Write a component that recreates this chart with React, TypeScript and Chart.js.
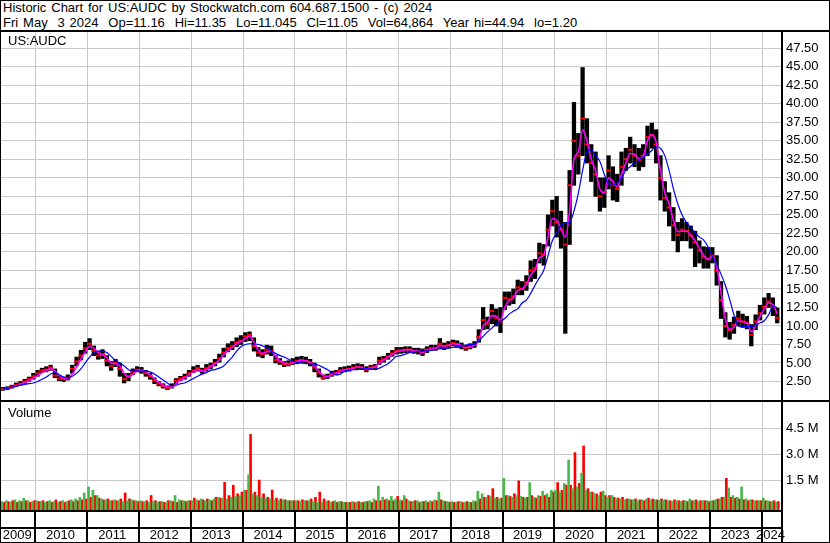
import React, { useEffect, useRef } from 'react';
import { Chart, registerables } from 'chart.js';

Chart.register(...registerables);

// ---------- axis / time configuration ----------
const START_YEAR = 2009;
const START_MONTH = 5; // first monthly bar: May 2009
const X_MIN = 2009.3353;
const X_MAX = 2024.3642;
const YEAR_TICKS = [2010, 2011, 2012, 2013, 2014, 2015, 2016, 2017, 2018, 2019, 2020, 2021, 2022, 2023, 2024];
const YEAR_LABELS = ['2009', '2010', '2011', '2012', '2013', '2014', '2015', '2016', '2017', '2018', '2019', '2020', '2021', '2022', '2023', '2024'];
const PRICE_MAX = 49.7;
const PRICE_TICKS = [2.5, 5, 7.5, 10, 12.5, 15, 17.5, 20, 22.5, 25, 27.5, 30, 32.5, 35, 37.5, 40, 42.5, 45, 47.5];
const VOL_MIN = -0.24;
const VOL_MAX = 6.03;
const VOL_TICKS = [1.5, 3.0, 4.5];

// ---------- monthly data (May 2009 .. Apr 2024) ----------
const highs = [
  1.7, 1.8, 2.0, 2.3, 2.5, 2.8, 3.1, 3.6,
  4.0, 4.3, 4.5, 4.7, 4.2, 3.3, 3.1, 3.4, 4.7, 5.8, 6.7, 7.8,
  8.3, 7.3, 6.6, 6.8, 6.0, 5.2, 5.5, 5.0, 3.6, 3.6, 4.2, 4.5,
  4.4, 4.0, 3.6, 3.0, 2.5, 2.2, 1.9, 2.2, 2.9, 3.2, 3.5, 4.0,
  4.5, 4.7, 4.3, 4.8, 5.0, 5.5, 6.2, 7.0, 7.6, 7.9, 8.4, 8.7,
  9.1, 9.2, 8.4, 7.1, 6.8, 7.4, 7.3, 6.0, 5.6, 5.2, 5.3, 5.6,
  5.8, 5.9, 5.8, 5.5, 5.0, 4.2, 3.4, 3.5, 3.9, 4.0, 4.4, 4.5,
  4.6, 4.8, 4.9, 4.8, 4.5, 4.7, 4.8, 5.8, 5.9, 6.3, 6.7, 7.1,
  7.1, 7.2, 7.2, 7.0, 7.0, 6.9, 7.2, 7.4, 7.4, 8.3, 7.7, 7.9,
  8.1, 8.0, 7.7, 7.4, 7.6, 7.9, 9.5, 12.5, 11.2, 12.9, 12.3, 12.5,
  14.6, 14.6, 15.0, 16.2, 16.0, 16.8, 18.8, 19.0, 21.2, 21.0, 25.0, 27.0,
  27.5, 25.5, 24.0, 31.0, 40.2, 36.0, 44.9, 38.0, 34.5, 33.5, 30.0, 30.0,
  33.0, 31.5, 30.5, 33.5, 34.0, 35.5, 34.5, 34.0, 34.5, 37.0, 37.4, 36.5,
  33.0, 29.5, 28.0, 26.0, 24.0, 24.5, 24.0, 23.5, 22.8, 21.5, 20.7, 20.6,
  20.6, 19.5, 16.0, 11.8, 10.5, 11.2, 12.0, 11.6, 11.3, 10.2, 11.5, 12.8,
  13.8, 14.4, 13.8, 12.4,
];

const lows = [
  1.3, 1.4, 1.6, 1.8, 2.0, 2.2, 2.5, 2.8,
  3.2, 3.7, 3.8, 4.0, 3.0, 2.6, 2.5, 2.7, 3.6, 4.6, 5.4, 6.3,
  6.8, 6.0, 5.5, 5.6, 4.6, 4.0, 4.5, 3.2, 2.3, 2.6, 3.4, 3.8,
  3.6, 3.2, 2.8, 2.2, 1.9, 1.6, 1.4, 1.6, 2.2, 2.6, 2.8, 3.2,
  3.7, 3.9, 3.6, 3.9, 4.2, 4.6, 5.1, 5.8, 6.5, 6.8, 7.2, 7.5,
  7.9, 8.0, 6.6, 5.9, 5.7, 6.2, 6.0, 5.0, 4.8, 4.5, 4.6, 4.8,
  4.9, 5.0, 4.9, 4.6, 3.8, 3.1, 2.8, 2.9, 3.2, 3.4, 3.7, 3.8,
  3.9, 4.1, 4.2, 4.1, 3.8, 4.1, 4.2, 4.8, 5.1, 5.5, 5.9, 6.2,
  6.3, 6.4, 6.4, 6.3, 6.2, 6.0, 6.4, 6.7, 6.7, 7.0, 6.8, 7.0,
  7.3, 7.1, 6.9, 6.7, 6.9, 7.1, 7.8, 9.5, 9.6, 10.3, 10.0, 9.1,
  12.2, 12.8, 13.0, 14.2, 14.2, 14.8, 16.0, 16.4, 18.5, 18.2, 20.8, 23.5,
  22.0, 20.5, 9.0, 21.0, 29.0, 30.5, 33.0, 32.0, 29.5, 27.5, 25.5, 26.0,
  28.5, 27.0, 26.8, 29.0, 31.0, 32.0, 31.5, 31.0, 31.5, 33.0, 34.0, 32.0,
  27.0, 25.5, 23.5, 21.5, 20.0, 21.5, 21.5, 20.5, 18.0, 18.5, 17.8, 17.8,
  18.5, 15.5, 11.0, 8.5, 8.2, 9.0, 10.0, 9.8, 9.6, 7.3, 9.5, 10.8,
  11.6, 12.5, 11.4, 10.4,
];

const closes = [
  1.5, 1.6, 1.8, 2.0, 2.2, 2.5, 2.8, 3.2,
  3.6, 4.0, 4.1, 4.4, 3.3, 2.9, 2.8, 3.0, 4.2, 5.2, 6.0, 7.0,
  7.6, 6.6, 6.0, 6.2, 5.3, 4.6, 5.0, 4.2, 2.8, 3.2, 3.8, 4.1,
  4.0, 3.6, 3.2, 2.6, 2.2, 1.9, 1.6, 1.8, 2.6, 2.9, 3.1, 3.6,
  4.0, 4.3, 3.9, 4.3, 4.6, 5.0, 5.6, 6.4, 7.0, 7.3, 7.8, 8.0,
  8.6, 8.8, 7.3, 6.4, 6.2, 6.8, 6.6, 5.4, 5.2, 4.8, 4.9, 5.1,
  5.3, 5.4, 5.3, 5.0, 4.4, 3.6, 3.0, 3.2, 3.5, 3.7, 4.0, 4.1,
  4.2, 4.4, 4.5, 4.4, 4.1, 4.4, 4.5, 5.3, 5.5, 5.9, 6.3, 6.6,
  6.7, 6.8, 6.8, 6.6, 6.6, 6.4, 6.8, 7.0, 7.0, 7.6, 7.2, 7.4,
  7.7, 7.5, 7.3, 7.0, 7.2, 7.5, 8.5, 10.8, 10.3, 12.0, 11.1, 10.6,
  13.8, 13.6, 14.0, 15.2, 15.0, 15.9, 17.5, 17.8, 19.8, 19.6, 23.0, 25.5,
  24.0, 23.0, 21.0, 29.0, 35.0, 33.0, 38.0, 34.5, 32.0, 30.5, 27.5, 28.0,
  31.0, 29.0, 28.5, 31.5, 32.5, 33.8, 33.0, 32.4, 33.0, 35.5, 35.8, 34.5,
  30.0, 27.3, 26.0, 23.6, 22.3, 23.0, 22.8, 22.2, 21.3, 20.2, 19.3, 19.0,
  19.5, 17.5, 13.5, 10.0, 9.4, 10.1, 11.0, 10.6, 10.4, 8.8, 10.6, 11.7,
  12.6, 13.3, 12.6, 11.1,
];

const maShort = [
  1.5, 1.55, 1.7, 1.9, 2.1, 2.35, 2.6, 2.95,
  3.3, 3.7, 4.0, 4.2, 3.9, 3.3, 2.95, 2.9, 3.5, 4.5, 5.5, 6.5,
  7.2, 7.0, 6.4, 6.1, 5.7, 5.0, 4.9, 4.6, 3.6, 3.1, 3.5, 3.9,
  4.0, 3.8, 3.4, 2.9, 2.4, 2.0, 1.75, 1.7, 2.2, 2.7, 3.0, 3.4,
  3.8, 4.1, 4.0, 4.1, 4.5, 4.9, 5.4, 6.1, 6.7, 7.1, 7.6, 7.9,
  8.3, 8.6, 7.8, 6.8, 6.3, 6.5, 6.6, 5.9, 5.3, 5.0, 4.9, 5.0,
  5.2, 5.35, 5.3, 5.1, 4.6, 3.9, 3.3, 3.15, 3.4, 3.6, 3.9, 4.05,
  4.15, 4.3, 4.45, 4.4, 4.2, 4.3, 4.45, 5.0, 5.4, 5.75, 6.15, 6.5,
  6.65, 6.75, 6.8, 6.65, 6.6, 6.45, 6.65, 6.9, 7.0, 7.35, 7.3, 7.35,
  7.6, 7.55, 7.35, 7.1, 7.15, 7.4, 8.1, 10.0, 10.5, 11.4, 11.3, 10.8,
  12.5, 13.4, 13.8, 14.8, 15.0, 15.6, 16.9, 17.6, 19.2, 19.6, 22.0, 24.5,
  24.3, 23.2, 22.0, 25.5, 32.5, 33.5, 36.5, 35.0, 32.5, 31.0, 28.5, 28.0,
  30.0, 29.5, 28.8, 30.5, 32.0, 33.3, 33.2, 32.6, 32.9, 35.0, 35.8, 34.8,
  31.0, 28.0, 26.5, 24.3, 22.7, 22.8, 22.8, 22.3, 21.5, 20.5, 19.5, 19.0,
  19.4, 18.0, 14.5, 11.0, 9.5, 9.9, 10.7, 10.6, 10.4, 9.2, 10.0, 11.3,
  12.3, 13.1, 12.9, 11.6,
];

const maLong = [
  1.5, 1.6, 1.7, 1.85, 2.0, 2.1, 2.2, 2.3,
  2.5, 2.8, 3.1, 3.5, 3.7, 3.4, 3.1, 3.0, 3.2, 3.6, 4.2, 5.0,
  5.8, 6.4, 6.6, 6.6, 6.4, 5.9, 5.3, 5.0, 4.6, 4.1, 3.9, 3.9,
  3.9, 3.9, 3.8, 3.5, 3.1, 2.7, 2.3, 1.9, 2.0, 2.2, 2.3, 2.6,
  2.9, 3.2, 3.5, 3.7, 4.0, 4.1, 4.3, 4.6, 5.2, 5.8, 6.6, 7.2,
  7.5, 7.6, 7.6, 7.5, 7.3, 7.1, 6.6, 6.3, 6.0, 5.8, 5.5, 5.2,
  5.1, 5.0, 4.9, 4.9, 4.8, 4.7, 4.4, 4.1, 3.7, 3.4, 3.5, 3.9,
  4.0, 4.1, 4.1, 4.2, 4.2, 4.2, 4.1, 4.3, 4.6, 4.9, 5.4, 5.9,
  6.0, 6.2, 6.4, 6.5, 6.6, 6.6, 6.6, 6.7, 6.8, 6.9, 7.0, 7.0,
  7.1, 7.2, 7.3, 7.4, 7.5, 7.5, 8.0, 8.6, 9.2, 9.7, 10.2, 10.6,
  11.0, 11.6, 12.0, 12.3, 13.1, 13.5, 14.4, 15.5, 16.5, 17.5, 19.5, 21.5,
  22.6, 23.6, 23.9, 24.0, 25.5, 27.9, 31.0, 33.5, 33.8, 33.0, 32.2, 30.5,
  29.2, 29.0, 29.3, 30.0, 31.0, 31.5, 32.0, 32.4, 32.8, 33.2, 33.7, 34.2,
  34.0, 33.0, 31.0, 28.5, 26.5, 25.0, 24.0, 23.3, 22.6, 22.0, 21.6, 20.7,
  19.4, 18.3, 17.0, 15.5, 13.6, 11.5, 10.0, 9.9, 9.9, 9.9, 10.1, 10.4,
  10.7, 11.5, 12.6, 12.5,
];

// weekly volume peaks within each month, millions of shares
const volUp = [
  0.25, 0.3, 0.2, 0.35, 0.3, 0.45, 0.3, 0.25,
  0.3, 0.25, 0.2, 0.3, 0.25, 0.2, 0.3, 0.25, 0.35, 0.4, 0.5, 0.75,
  1.1, 0.9, 0.6, 0.4, 0.35, 0.3, 0.35, 0.3, 0.25, 0.3, 0.35, 0.3,
  0.3, 0.25, 0.2, 0.25, 0.2, 0.25, 0.2, 0.3, 0.6, 0.35, 0.3, 0.3,
  0.3, 0.35, 0.4, 0.3, 0.35, 0.4, 0.5, 0.45, 0.4, 0.5, 0.55, 0.6,
  0.9, 1.8, 0.7, 0.6, 0.5, 0.45, 0.4, 0.35, 0.3, 0.35, 0.3, 0.3,
  0.3, 0.25, 0.3, 0.3, 0.25, 0.2, 0.2, 0.25, 0.2, 0.3, 0.25, 0.2,
  0.2, 0.25, 0.2, 0.2, 0.25, 0.3, 0.4, 1.15, 0.5, 0.4, 0.55, 0.4,
  0.35, 0.6, 0.3, 0.25, 0.3, 0.25, 0.3, 0.3, 0.35, 0.8, 0.3, 0.25,
  0.25, 0.2, 0.25, 0.2, 0.2, 0.3, 0.85, 0.7, 0.5, 0.55, 0.45, 0.4,
  1.6, 0.6, 0.5, 0.6, 0.55, 0.45, 1.35, 0.5, 0.6, 0.85, 0.7, 0.9,
  0.9, 0.8, 1.3, 2.66, 1.0, 1.1, 1.9, 0.9, 0.8, 0.7, 0.6, 0.86,
  0.5, 0.6, 0.45, 0.4, 0.35, 0.4, 0.35, 0.3, 0.35, 0.4, 0.35, 0.35,
  0.3, 0.35, 0.3, 0.25, 0.3, 0.25, 0.3, 0.4, 0.3, 0.25, 0.3, 0.3,
  0.3, 0.35, 0.4, 0.5, 1.04, 0.6, 0.5, 1.1, 0.4, 0.35, 0.3, 0.3,
  0.45, 0.3, 0.25, 0.2,
];

const volDown = [
  0.2, 0.25, 0.3, 0.2, 0.25, 0.3, 0.2, 0.3,
  0.25, 0.3, 0.25, 0.2, 0.35, 0.25, 0.2, 0.3, 0.25, 0.3, 0.35, 0.4,
  0.5, 0.6, 0.45, 0.35, 0.4, 0.3, 0.3, 0.4, 0.75, 0.4, 0.3, 0.25,
  0.25, 0.3, 0.6, 0.3, 0.25, 0.2, 0.3, 0.25, 0.2, 0.3, 0.25, 0.3,
  0.45, 0.3, 0.35, 0.4, 0.3, 0.5, 0.45, 1.37, 0.6, 1.2, 0.7, 0.8,
  0.9, 4.15, 0.8, 1.5, 0.7, 0.5, 0.92, 0.45, 0.4, 0.35, 0.3, 0.3,
  0.3, 0.35, 0.3, 0.4, 0.5, 0.8, 0.4, 0.3, 0.25, 0.2, 0.25, 0.2,
  0.2, 0.2, 0.25, 0.2, 0.25, 0.2, 0.3, 0.3, 0.35, 0.3, 0.3, 0.55,
  0.3, 0.4, 0.25, 0.3, 0.2, 0.25, 0.2, 0.25, 0.3, 0.35, 0.25, 0.2,
  0.2, 0.25, 0.2, 0.25, 0.2, 0.25, 0.4, 0.5, 0.6, 1.0, 0.5, 0.45,
  0.6, 0.55, 0.7, 1.45, 0.5, 0.5, 0.6, 0.45, 0.55, 0.6, 0.5, 0.8,
  1.35, 0.9, 1.2, 1.2, 3.09, 1.3, 3.48, 1.0, 0.8, 0.7, 0.8, 0.6,
  0.6, 0.5, 0.45, 0.5, 0.4, 0.35, 0.4, 0.35, 0.3, 0.45, 0.4, 0.35,
  0.4, 0.35, 0.3, 0.35, 0.3, 0.3, 0.25, 0.3, 0.35, 0.3, 0.3, 0.25,
  0.3, 0.4, 0.5, 1.6, 0.5, 0.45, 0.4, 0.35, 0.3, 0.35, 0.3, 0.3,
  0.3, 0.25, 0.3, 0.25,
];

// ---------- helpers ----------
const FONT = '"Liberation Sans", Arial, sans-serif';
const GRID = '#c8c8c8';
const UP_GREEN = '#4cb84c';
const DOWN_RED = '#ff0000';

const monthX = (i: number) => START_YEAR + (START_MONTH - 1 + i + 0.5) / 12;
const series = (arr: number[]) => arr.map((v, i) => ({ x: monthX(i), y: v }));

const noScalePadding = (s: any) => {
  s.paddingTop = 0;
  s.paddingBottom = 0;
  s.paddingLeft = 0;
  s.paddingRight = 0;
};

const xScaleBase = (): any => ({
  type: 'linear',
  min: X_MIN,
  max: X_MAX,
  offset: false,
  afterBuildTicks: (s: any) => {
    s.ticks = YEAR_TICKS.map((v) => ({ value: v }));
  },
  afterFit: (s: any) => {
    s.height = 0;
    noScalePadding(s);
  },
  ticks: { display: false },
  grid: { color: GRID, lineWidth: 1, drawTicks: false, offset: false },
  border: { display: false },
});

const rightAxis = (min: number, max: number, tickValues: number[], fmt: (v: number) => string): any => ({
  type: 'linear',
  position: 'right',
  min,
  max,
  afterBuildTicks: (s: any) => {
    s.ticks = tickValues.map((v) => ({ value: v }));
  },
  ticks: {
    padding: 5,
    color: '#000',
    font: { size: 13, family: FONT },
    callback: (v: any) => fmt(Number(v)),
  },
  grid: { color: GRID, lineWidth: 1, drawTicks: false },
  border: { display: false },
  afterFit: (s: any) => {
    s.width = 48;
    noScalePadding(s);
  },
});

const yearStripPlugin = {
  id: 'yearStrip',
  afterDraw(chart: any) {
    const { ctx, chartArea, scales } = chart;
    const xs = scales.x;
    const top = chartArea.bottom + 2;
    const bottom = chart.height;
    const edges = [chartArea.left, ...YEAR_TICKS.map((v) => xs.getPixelForValue(v)), chartArea.right];
    ctx.save();
    ctx.fillStyle = '#000';
    YEAR_TICKS.forEach((v) => {
      const px = Math.round(xs.getPixelForValue(v));
      ctx.fillRect(px - 1, top, 2, bottom - top);
    });
    ctx.font = `13px ${FONT}`;
    ctx.textAlign = 'center';
    ctx.textBaseline = 'alphabetic';
    YEAR_LABELS.forEach((lab, i) => {
      const cx = (edges[i] + edges[i + 1]) / 2 - 1;
      ctx.fillText(lab, cx, bottom - 2.7);
    });
    ctx.restore();
  },
};

export default function App() {
  const priceRef = useRef<HTMLCanvasElement>(null);
  const volRef = useRef<HTMLCanvasElement>(null);

  useEffect(() => {
    Chart.defaults.font.family = FONT;
    Chart.defaults.font.size = 13;
    Chart.defaults.color = '#000';

    const priceChart = new Chart(priceRef.current as HTMLCanvasElement, {
      type: 'bar',
      data: {
        datasets: [
          {
            type: 'line',
            label: 'MA long',
            data: series(maLong),
            borderColor: '#0000ff',
            borderWidth: 1.2,
            pointRadius: 0,
            cubicInterpolationMode: 'monotone',
            order: 1,
          } as any,
          {
            type: 'line',
            label: 'MA short',
            data: series(maShort),
            borderColor: '#ff00ff',
            borderWidth: 1.6,
            pointRadius: 0,
            cubicInterpolationMode: 'monotone',
            order: 2,
          } as any,
          {
            type: 'line',
            label: 'Close',
            data: series(closes),
            showLine: false,
            pointStyle: 'line',
            pointRadius: 2.5,
            pointBorderWidth: 2,
            pointBorderColor: DOWN_RED,
            pointBackgroundColor: DOWN_RED,
            order: 3,
          } as any,
          {
            type: 'bar',
            label: 'Range',
            data: highs.map((h, i) => ({ x: monthX(i), y: [lows[i], h] })),
            backgroundColor: '#000',
            borderWidth: 0,
            barThickness: 3.6,
            order: 4,
          } as any,
        ],
      },
      options: {
        animation: false,
        responsive: false,
        events: [],
        layout: { autoPadding: false, padding: 0 } as any,
        plugins: { legend: { display: false }, tooltip: { enabled: false } },
        scales: {
          x: xScaleBase(),
          y: rightAxis(0, PRICE_MAX, PRICE_TICKS, (v) => v.toFixed(2)),
        },
      },
    });

    const volChart = new Chart(volRef.current as HTMLCanvasElement, {
      type: 'bar',
      data: {
        datasets: [
          {
            label: 'Up volume',
            data: series(volUp),
            backgroundColor: UP_GREEN,
            borderWidth: 0,
            barThickness: 2,
            base: VOL_MIN,
          } as any,
          {
            label: 'Down volume',
            data: series(volDown),
            backgroundColor: DOWN_RED,
            borderWidth: 0,
            barThickness: 2,
            base: VOL_MIN,
          } as any,
        ],
      },
      options: {
        animation: false,
        responsive: false,
        events: [],
        layout: { autoPadding: false, padding: { top: 0, left: 0, right: 0, bottom: 32 } } as any,
        plugins: { legend: { display: false }, tooltip: { enabled: false } },
        scales: {
          x: xScaleBase(),
          y: rightAxis(VOL_MIN, VOL_MAX, VOL_TICKS, (v) => `${v.toFixed(1)} M`),
        },
      },
      plugins: [yearStripPlugin],
    });

    return () => {
      priceChart.destroy();
      volChart.destroy();
    };
  }, []);

  const text: React.CSSProperties = {
    position: 'absolute',
    fontFamily: FONT,
    fontSize: 13,
    lineHeight: '15px',
    whiteSpace: 'pre',
    color: '#000',
  };
  const line = (left: number, top: number, width: number, height: number): React.CSSProperties => ({
    position: 'absolute',
    left,
    top,
    width,
    height,
    background: '#000',
  });

  return (
    <div
      style={{
        position: 'absolute',
        left: 0,
        top: 0,
        width: 830,
        height: 543,
        background: '#fff',
        overflow: 'hidden',
      }}
    >
      <div style={{ ...text, left: 3, top: 0, wordSpacing: '1.3px' }}>
        Historic Chart for US:AUDC by Stockwatch.com 604.687.1500 - (c) 2024
      </div>
      <div style={{ ...text, left: 3, top: 15, wordSpacing: '1.3px' }}>
        {'Fri May  3 2024  Op=11.16  Hi=11.35  Lo=11.045  Cl=11.05  Vol=64,864  Year hi=44.94  lo=1.20'}
      </div>

      <canvas
        ref={priceRef}
        width={828}
        height={368}
        style={{ position: 'absolute', left: 1, top: 32, width: 828, height: 368 }}
      />
      <canvas
        ref={volRef}
        width={828}
        height={140}
        style={{ position: 'absolute', left: 1, top: 402, width: 828, height: 140 }}
      />

      <div style={{ ...text, left: 8, top: 33 }}>US:AUDC</div>
      <div style={{ ...text, left: 8, top: 405 }}>Volume</div>

      <div style={line(0, 30, 830, 2)} />
      <div style={line(0, 400, 830, 2)} />
      <div style={line(781, 32, 2, 511)} />
      <div style={line(0, 510, 782, 2)} />
      <div style={line(0, 527, 782, 2)} />
      <div
        style={{
          position: 'absolute',
          left: 0,
          top: 0,
          width: 830,
          height: 543,
          boxSizing: 'border-box',
          border: '1px solid #000',
          pointerEvents: 'none',
        }}
      />
    </div>
  );
}
